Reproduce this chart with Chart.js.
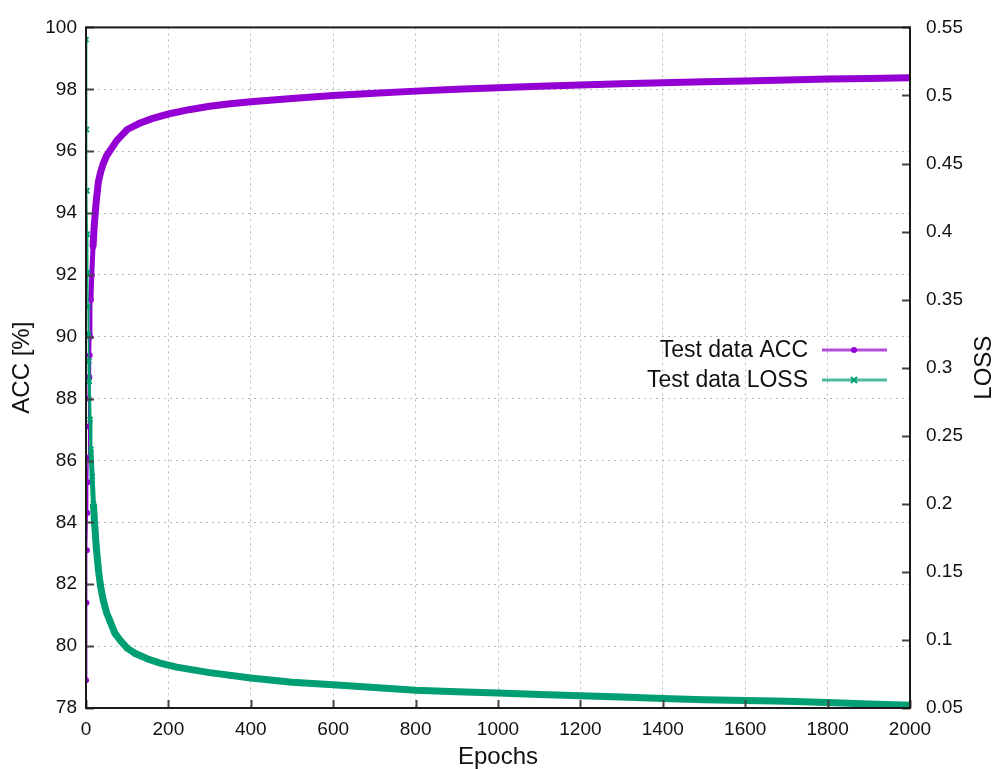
<!DOCTYPE html>
<html>
<head>
<meta charset="utf-8">
<script src="https://cdn.jsdelivr.net/npm/chart.js@4/dist/chart.umd.min.js"></script>
<style>
  html, body { margin: 0; padding: 0; background: #ffffff; }
  #wrap { width: 1000px; height: 769px; }
</style>
</head>
<body>
<div id="wrap"><canvas id="c" width="1000" height="769"></canvas></div>
<script>
// ---- data ----
const accEpochs = [0,1,2,3,4,5,6,7,8,9,10,12,14,17,20,25,30,35,42,50,60,75,100,130,160,200,250,300,350,400,500,600,700,800,900,1000,1100,1200,1300,1400,1500,1600,1700,1800,1900,2000];
const accValues = [78.9,81.4,83.1,84.3,85.3,86.1,87.1,88.0,88.7,89.4,90.0,91.2,92.0,92.9,93.6,94.4,95.0,95.3,95.6,95.85,96.05,96.35,96.7,96.9,97.05,97.2,97.34,97.45,97.53,97.6,97.7,97.8,97.87,97.94,98.0,98.05,98.1,98.14,98.18,98.21,98.24,98.27,98.3,98.33,98.35,98.37];

const lossEpochs = [0,1,2,3,4,5,6,7,8,10,12,15,18,21,25,30,35,42,50,58,70,85,100,120,150,180,220,260,300,400,500,600,700,800,900,1000,1100,1200,1300,1400,1500,1600,1700,1800,1900,2000];
const lossValues = [0.541,0.475,0.430,0.398,0.37,0.345,0.325,0.305,0.29,0.262,0.24,0.22,0.2,0.185,0.168,0.152,0.14,0.129,0.12,0.114,0.105,0.099,0.094,0.09,0.086,0.083,0.080,0.078,0.076,0.072,0.069,0.067,0.065,0.063,0.062,0.061,0.060,0.059,0.058,0.057,0.056,0.0555,0.055,0.054,0.053,0.052];

const xTicks = [0,200,400,600,800,1000,1200,1400,1600,1800,2000];
const accTicks = [78,80,82,84,86,88,90,92,94,96,98,100];
const lossTicks = [0.05,0.1,0.15,0.2,0.25,0.3,0.35,0.4,0.45,0.5,0.55];

const seriesNames = ['Test data ACC', 'Test data LOSS'];
const axisTitles = { x: 'Epochs', left: 'ACC [%]', right: 'LOSS' };

// ---- styling ----
const PURPLE = '#9400d3';
const GREEN = '#009e73';
const TEXT = '#111111';
const FONT = "'Liberation Sans', Arial, sans-serif";

const accPoints = accEpochs.map((e, i) => ({ x: e, y: accValues[i] }));
const lossPoints = lossEpochs.map((e, i) => ({ x: e, y: lossValues[i] }));

const segWidth = ctx => {
  const x = ctx.p0.parsed.x;
  if (x < 7) return 1.5;
  if (x < 12) return 3;
  if (x < 17) return 5;
  return 7;
};

const framePlugin = {
  id: 'frame',
  afterDraw(chart) {
    const { ctx, chartArea: a, scales } = chart;
    ctx.save();
    // inward tick marks
    ctx.strokeStyle = '#444';
    ctx.lineWidth = 2;
    ctx.beginPath();
    accTicks.forEach(v => {
      const y = Math.round(scales.y.getPixelForValue(v)) + 0.5;
      ctx.moveTo(a.left, y); ctx.lineTo(a.left + 8, y);
    });
    lossTicks.forEach(v => {
      const y = Math.round(scales.y1.getPixelForValue(v)) + 0.5;
      ctx.moveTo(a.right, y); ctx.lineTo(a.right - 8, y);
    });
    xTicks.forEach(v => {
      const x = Math.round(scales.x.getPixelForValue(v)) + 0.5;
      ctx.moveTo(x, a.bottom); ctx.lineTo(x, a.bottom - 8);
    });
    ctx.stroke();
    // border
    ctx.strokeStyle = '#1a1a1a';
    ctx.lineWidth = 2;
    ctx.strokeRect(a.left, a.top, a.right - a.left, a.bottom - a.top);

    // axis titles
    ctx.fillStyle = TEXT;
    ctx.font = '24px ' + FONT;
    ctx.textAlign = 'center';
    ctx.textBaseline = 'middle';
    ctx.fillText(axisTitles.x, (a.left + a.right) / 2, 757);
    const midY = (a.top + a.bottom) / 2;
    ctx.save();
    ctx.translate(22, midY);
    ctx.rotate(-Math.PI / 2);
    ctx.fillText(axisTitles.left, 0, 0);
    ctx.restore();
    ctx.save();
    ctx.translate(984, midY);
    ctx.rotate(-Math.PI / 2);
    ctx.fillText(axisTitles.right, 0, 0);
    ctx.restore();

    // legend (gnuplot style)
    const rows = [
      { label: seriesNames[0], color: PURPLE, y: 350, marker: 'dot' },
      { label: seriesNames[1], color: GREEN, y: 380, marker: 'x' }
    ];
    ctx.font = '23px ' + FONT;
    ctx.textAlign = 'right';
    rows.forEach(r => {
      ctx.fillStyle = TEXT;
      ctx.fillText(r.label, 808, r.y + 1);
      ctx.strokeStyle = r.color;
      ctx.globalAlpha = 0.7;
      ctx.lineWidth = 3;
      ctx.beginPath();
      ctx.moveTo(822, r.y); ctx.lineTo(887, r.y);
      ctx.stroke();
      ctx.globalAlpha = 1;
      if (r.marker === 'dot') {
        ctx.fillStyle = r.color;
        ctx.beginPath(); ctx.arc(854, r.y, 3, 0, Math.PI * 2); ctx.fill();
      } else {
        ctx.lineWidth = 2;
        ctx.beginPath();
        ctx.moveTo(851, r.y - 3); ctx.lineTo(857, r.y + 3);
        ctx.moveTo(851, r.y + 3); ctx.lineTo(857, r.y - 3);
        ctx.stroke();
      }
    });
    ctx.restore();
  }
};

new Chart(document.getElementById('c'), {
  type: 'line',
  data: {
    datasets: [
      {
        label: seriesNames[1],
        data: lossPoints,
        yAxisID: 'y1',
        borderColor: GREEN,
        backgroundColor: GREEN,
        pointStyle: 'crossRot',
        pointRadius: 3.5,
        pointBorderWidth: 2,
        borderWidth: 7,
        segment: { borderWidth: segWidth },
        order: 0,
        tension: 0
      },
      {
        label: seriesNames[0],
        data: accPoints,
        yAxisID: 'y',
        borderColor: PURPLE,
        backgroundColor: PURPLE,
        pointStyle: 'circle',
        pointRadius: 3,
        pointBorderWidth: 0,
        borderWidth: 7,
        segment: { borderWidth: segWidth },
        order: 1,
        tension: 0
      }
    ]
  },
  options: {
    responsive: false,
    animation: false,
    devicePixelRatio: 1,
    layout: { padding: { top: 22, left: 0, right: 0, bottom: 0 } },
    plugins: { legend: { display: false }, tooltip: { enabled: false } },
    scales: {
      x: {
        type: 'linear',
        min: 0, max: 2000,
        afterFit(s) { s.height = 61; },
        afterBuildTicks(s) { s.ticks = xTicks.map(v => ({ value: v })); },
        ticks: {
          color: TEXT, font: { family: FONT, size: 19 }, padding: 10, maxRotation: 0, autoSkip: false,
          callback: v => String(v)
        },
        grid: { color: '#b8b8b8', lineWidth: 1, drawTicks: false },
        border: { display: false, dash: [2, 4] }
      },
      y: {
        position: 'left',
        min: 78, max: 100,
        afterFit(s) { s.width = 86; },
        afterBuildTicks(s) { s.ticks = accTicks.map(v => ({ value: v })); },
        ticks: {
          color: TEXT, font: { family: FONT, size: 19 }, padding: 9, autoSkip: false,
          callback: v => String(v)
        },
        grid: { color: '#b8b8b8', lineWidth: 1, drawTicks: false },
        border: { display: false, dash: [2, 4] }
      },
      y1: {
        position: 'right',
        min: 0.05, max: 0.55,
        afterFit(s) { s.width = 90; },
        afterBuildTicks(s) { s.ticks = lossTicks.map(v => ({ value: v })); },
        ticks: {
          color: TEXT, font: { family: FONT, size: 19 }, padding: 16, autoSkip: false,
          callback: v => String(Number(v.toFixed(2)))
        },
        grid: { display: false, drawTicks: false },
        border: { display: false }
      }
    }
  },
  plugins: [framePlugin]
});
</script>
</body>
</html>
